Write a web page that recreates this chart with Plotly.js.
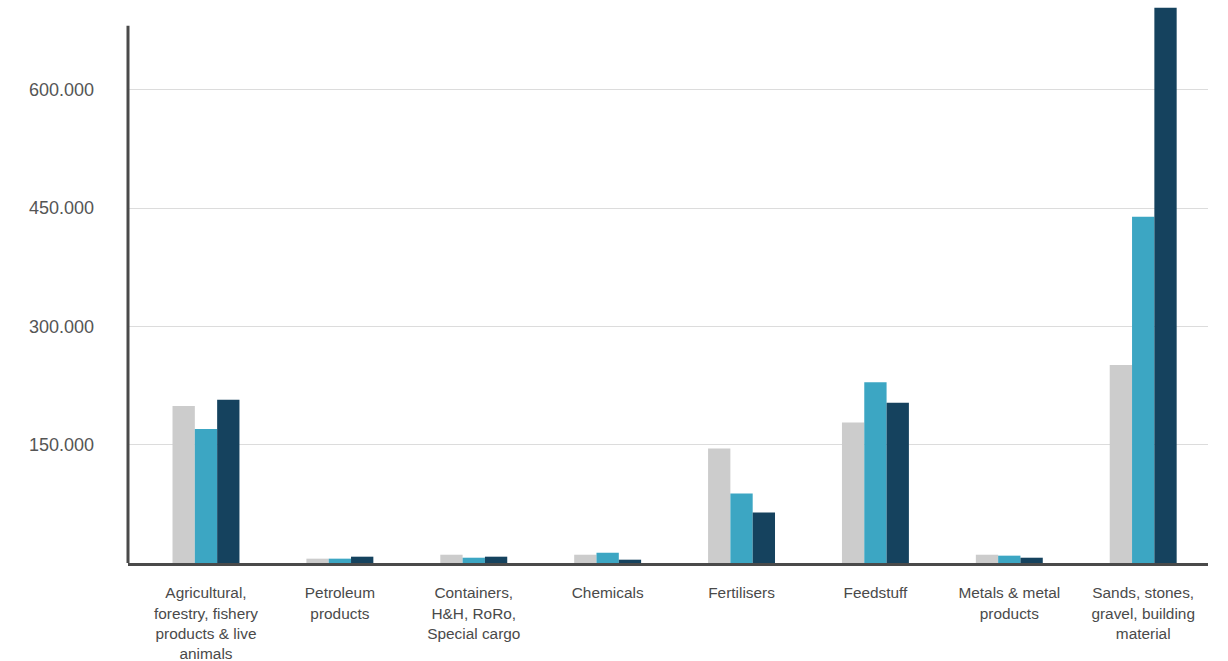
<!DOCTYPE html>
<html>
<head>
<meta charset="utf-8">
<script src="https://cdn.plot.ly/plotly-3.0.1.min.js"></script>
<style>
  html, body { margin: 0; padding: 0; background: #ffffff; }
  #chart { width: 1228px; height: 661px; }
</style>
</head>
<body>
<div id="chart"></div>
<script>
// Cargo groups shown along the x axis
const categories = [
  "Agricultural,<br>forestry, fishery<br>products & live<br>animals",
  "Petroleum<br>products",
  "Containers,<br>H&H, RoRo,<br>Special cargo",
  "Chemicals",
  "Fertilisers",
  "Feedstuff",
  "Metals & metal<br>products",
  "Sands, stones,<br>gravel, building<br>material"
];

// Tonnage per cargo group, three periods
const periodA = [199000, 5500, 10500, 10500, 145000, 178000, 10500, 251000];
const periodB = [170000, 5500, 6700, 13000, 88000, 229000, 9300, 439000];
const periodC = [207000, 8000, 8000, 4200, 64000, 203000, 6700, 704000];

// Y-axis ticks
const yTickVals = [150000, 300000, 450000, 600000];

const seriesColors = ["#cccccc", "#3ca6c3", "#15425e"];
const seriesData = [periodA, periodB, periodC];
const seriesNames = ["Period A", "Period B", "Period C"];

const traces = seriesData.map((vals, i) => ({
  type: "bar",
  name: seriesNames[i],
  x: categories,
  y: vals,
  marker: { color: seriesColors[i] },
  hoverinfo: "x+y"
}));

const layout = {
  width: 1228,
  height: 661,
  margin: { l: 128, r: 20, t: 4, b: 98 },
  paper_bgcolor: "#ffffff",
  plot_bgcolor: "#ffffff",
  showlegend: false,
  barmode: "group",
  bargap: 0.5,
  bargroupgap: 0,
  separators: ",.",
  font: { family: "Liberation Sans, Arial, sans-serif", color: "#555555" },
  xaxis: {
    type: "category",
    range: [-0.5825, 7.484],
    showgrid: false,
    zeroline: false,
    showline: true,
    linecolor: "#4a4a4a",
    linewidth: 3,
    ticks: "",
    ticklabelstandoff: 14,
    tickfont: { size: 15.4, color: "#4a4a4a" },
    fixedrange: true
  },
  yaxis: {
    range: [0, 708600],
    tickvals: yTickVals,
    tickformat: ",d",
    showgrid: true,
    gridcolor: "#dcdcdc",
    gridwidth: 1,
    zeroline: false,
    showline: false,
    ticks: "",
    ticklabelstandoff: 33,
    tickfont: { size: 18, color: "#555555" },
    fixedrange: true
  },
  shapes: [{
    // vertical axis line, stops below the top of the tallest bar
    type: "line",
    xref: "paper",
    yref: "y",
    x0: 0, x1: 0,
    y0: 0, y1: 681000,
    line: { color: "#4a4a4a", width: 3 },
    layer: "above"
  }]
};

Plotly.newPlot("chart", traces, layout, { displayModeBar: false, staticPlot: true });
</script>
</body>
</html>
